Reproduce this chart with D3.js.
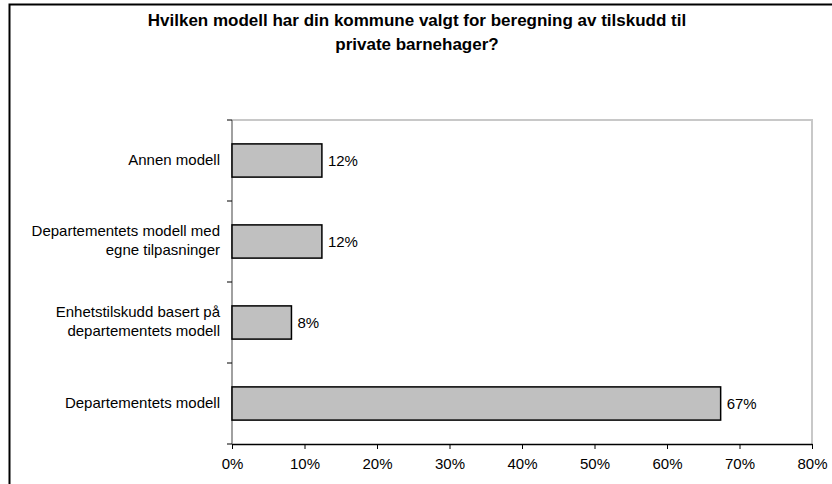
<!DOCTYPE html>
<html>
<head>
<meta charset="utf-8">
<script src="https://cdn.jsdelivr.net/npm/d3@7"></script>
<style>
  body { margin: 0; background: #fff; }
  svg { display: block; font-family: "Liberation Sans", Arial, sans-serif; }
</style>
</head>
<body>
<svg width="832" height="484"></svg>
<script>
// chart data, top to bottom
var categories = [
  ["Annen modell"],
  ["Departementets modell med", "egne tilpasninger"],
  ["Enhetstilskudd basert på", "departementets modell"],
  ["Departementets modell"]
];
var values = [12.4, 12.4, 8.2, 67.4];
var labels = ["12%", "12%", "8%", "67%"];
var xTicks = [0, 10, 20, 30, 40, 50, 60, 70, 80];

var svg = d3.select("svg");

var margin = { top: 120, left: 232, right: 20, bottom: 40 };
var width = 812 - margin.left;
var height = 444 - margin.top;

// outer frame (runs off the right and bottom edges)
svg.append("rect")
  .attr("x", 9.5).attr("y", 4.5)
  .attr("width", 900).attr("height", 600)
  .attr("fill", "none").attr("stroke", "#000").attr("stroke-width", 2);

svg.append("text")
  .attr("x", 417).attr("y", 26)
  .attr("text-anchor", "middle")
  .attr("font-size", "17px").attr("font-weight", "bold")
  .text("Hvilken modell har din kommune valgt for beregning av tilskudd til");
svg.append("text")
  .attr("x", 417).attr("y", 50)
  .attr("text-anchor", "middle")
  .attr("font-size", "17px").attr("font-weight", "bold")
  .text("private barnehager?");

var x = d3.scaleLinear().domain([0, 80]).range([margin.left, margin.left + width]);
var idx = d3.range(categories.length);
var y = d3.scaleBand().domain(idx).range([margin.top, margin.top + height])
  .paddingInner(0.59).paddingOuter(0.295);

// plot area border (top and right)
svg.append("path")
  .attr("d", "M" + margin.left + "," + margin.top + "H" + x(80) + "V" + (margin.top + height))
  .attr("fill", "none").attr("stroke", "#c8c8c8").attr("stroke-width", 2);

// y axis line with ticks at band boundaries
var step = y.step();
var y0 = y(0) - (step - y.bandwidth()) / 2;
var bounds = d3.range(categories.length + 1).map(function(i) { return y0 + i * step; });
svg.append("line")
  .attr("x1", margin.left).attr("x2", margin.left)
  .attr("y1", margin.top).attr("y2", margin.top + height)
  .attr("stroke", "#808080").attr("stroke-width", 1.5);
svg.selectAll(".ytick").data(bounds).enter().append("line")
  .attr("x1", margin.left - 5).attr("x2", margin.left)
  .attr("y1", function(d) { return d; }).attr("y2", function(d) { return d; })
  .attr("stroke", "#000").attr("stroke-width", 1);

// bars
svg.selectAll(".bar").data(idx).enter().append("rect")
  .attr("x", x(0))
  .attr("y", function(i) { return y(i); })
  .attr("width", function(i) { return x(values[i]) - x(0); })
  .attr("height", y.bandwidth())
  .attr("fill", "#c0c0c0").attr("stroke", "#000").attr("stroke-width", 1.5);

// value labels
svg.selectAll(".val").data(idx).enter().append("text")
  .attr("x", function(i) { return x(values[i]) + 6; })
  .attr("y", function(i) { return y(i) + y.bandwidth() / 2; })
  .attr("dy", "0.35em")
  .attr("font-size", "15px")
  .text(function(i) { return labels[i]; });

// category labels
svg.selectAll(".cat").data(idx).enter().append("text")
  .attr("text-anchor", "end")
  .attr("font-size", "15px")
  .each(function(i) {
    var lines = categories[i];
    var cy = y(i) + y.bandwidth() / 2;
    var t = d3.select(this);
    lines.forEach(function(s, k) {
      t.append("tspan")
        .attr("x", margin.left - 12)
        .attr("y", cy - 1 + (k - (lines.length - 1) / 2) * 19)
        .attr("dy", "0.35em")
        .text(s);
    });
  });

// x axis
var xAxis = d3.axisBottom(x).tickValues(xTicks)
  .tickFormat(function(d) { return d + "%"; })
  .tickSize(5).tickSizeOuter(0).tickPadding(9);
var gx = svg.append("g")
  .attr("transform", "translate(0," + (margin.top + height) + ")")
  .call(xAxis);
gx.select(".domain").attr("stroke", "#000").attr("stroke-width", 1.5);
gx.selectAll(".tick line").attr("stroke", "#000");
gx.selectAll(".tick text").attr("font-size", "15px").attr("fill", "#000")
  .attr("font-family", "Liberation Sans, Arial, sans-serif");
</script>
</body>
</html>
